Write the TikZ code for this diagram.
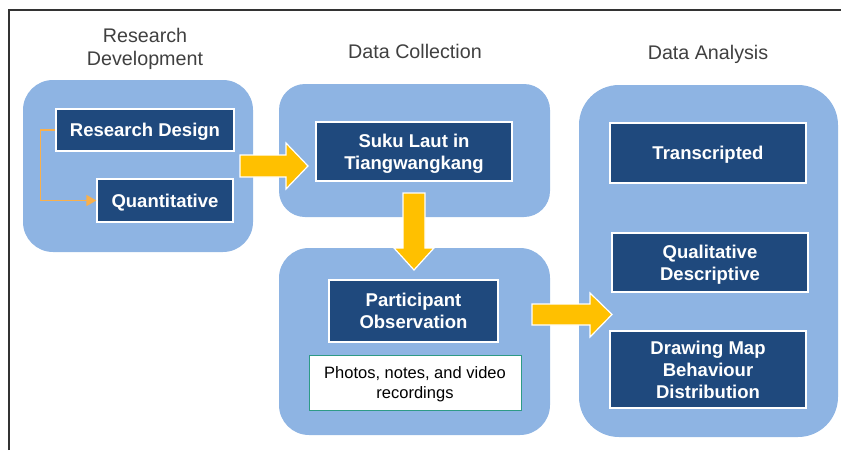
\documentclass[tikz,border=0pt]{standalone}
\usepackage{fontspec}
\setmainfont{Liberation Sans}
\usetikzlibrary{arrows.meta}
\definecolor{panelblue}{HTML}{8EB4E3}
\definecolor{boxblue}{HTML}{1F497D}
\definecolor{arrowyellow}{HTML}{FFC000}
\definecolor{lineorange}{HTML}{F9B04C}
\definecolor{tealborder}{HTML}{2E9A86}
\definecolor{headgray}{HTML}{404040}
\definecolor{framegray}{HTML}{333333}
\begin{document}
\begin{tikzpicture}[x=1pt,y=-1pt,
  panel/.style={fill=panelblue,draw=none,rounded corners=#1,inner sep=0pt},
  darkbox/.style={fill=boxblue,draw=white,line width=1.3pt,text=white,inner sep=0pt,align=center,
    text depth=0pt,font=\fontsize{18.5}{22}\selectfont\bfseries},
  notebox/.style={fill=white,draw=tealborder,line width=1pt,text=black,inner sep=0pt,align=center,
    text depth=0pt,font=\fontsize{16.5}{20}\selectfont},
  header/.style={text=headgray,inner sep=0pt,align=center,font=\fontsize{19.7}{23}\selectfont},
  blockarrow/.style={fill=arrowyellow,draw=white,line width=1.2pt,line join=miter},
  linkline/.style={draw=lineorange,line width=1.4pt,-{Triangle[length=10pt,width=11pt]}}
]
\useasboundingbox (0,0) rectangle (841,450);
% frame
\draw[framegray,line width=1.4pt] (9,450) -- (9,10) -- (841,10);

% headers
\node[header] (h1) at (145,49.3) {Research\\Development};
\node[header,anchor=base] (h2) at (415,58) {Data Collection};
\node[header,anchor=base] (h3) at (708,59) {Data Analysis};

% panels
\node[panel=30pt,minimum width=230pt,minimum height=172pt] (p1) at (138,166) {};
\node[panel=26pt,minimum width=271pt,minimum height=133pt] (p2) at (414.5,150.5) {};
\node[panel=30pt,minimum width=271pt,minimum height=187pt] (p3) at (414.5,341.5) {};
\node[panel=40pt,minimum width=259pt,minimum height=352pt] (p4) at (708.5,261) {};

% boxes
\node[darkbox,minimum width=178pt,minimum height=42pt] (rd) at (145,130) {Research Design};
\node[darkbox,minimum width=136pt,minimum height=43pt] (qt) at (165,200.5) {Quantitative};
\node[darkbox,minimum width=196pt,minimum height=59pt] (sl) at (414,151.5) {Suku Laut in\\Tiangwangkang};
\node[darkbox,minimum width=169pt,minimum height=62pt] (po) at (413.5,311) {Participant\\Observation};
\node[notebox,minimum width=212pt,minimum height=55pt] (ph) at (415,382.5) {Photos, notes, and video\\recordings};
\node[darkbox,minimum width=196pt,minimum height=60pt] (tr) at (708,153) {Transcripted};
\node[darkbox,minimum width=196pt,minimum height=59pt] (qd) at (710,262.5) {Qualitative\\Descriptive};
\node[darkbox,minimum width=196pt,minimum height=77pt] (dm) at (708,369.5) {Drawing Map\\Behaviour\\Distribution};

% orange connector
\coordinate (bend1) at ([xshift=-15pt]rd.west);
\coordinate (bend2) at (bend1 |- qt.west);
\draw[linkline] (rd.west) -- (bend1) -- (bend2) -- (qt.west);

% block arrows
\draw[blockarrow] (240,155) -- (286,155) -- (286,143) -- (308,166) -- (286,189) -- (286,177) -- (240,177) -- cycle;
\draw[blockarrow] (403,193) -- (425,193) -- (425,248) -- (434,248) -- (414,270) -- (394,248) -- (403,248) -- cycle;
\draw[blockarrow] (532,304) -- (590,304) -- (590,293) -- (612,314.5) -- (590,337) -- (590,325) -- (532,325) -- cycle;
\end{tikzpicture}
\end{document}
